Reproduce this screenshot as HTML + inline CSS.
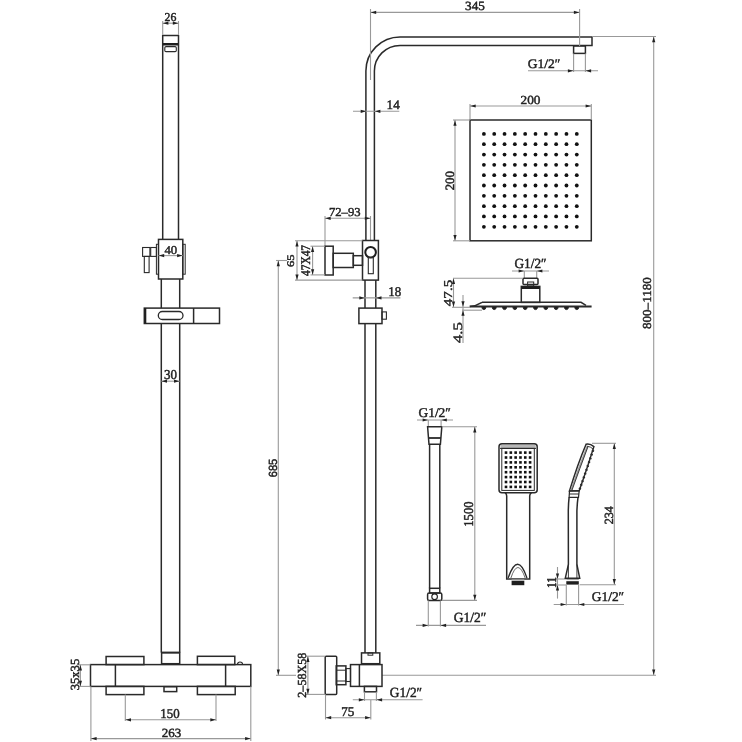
<!DOCTYPE html>
<html><head><meta charset="utf-8"><style>
html,body{margin:0;padding:0;background:#fff;}
svg{display:block;filter:grayscale(1);}
text{fill:#222;text-rendering:geometricPrecision;}
</style></head><body>
<svg width="742" height="742" viewBox="0 0 742 742">
<rect width="742" height="742" fill="#fff"/>
<line x1="162.7" y1="35.5" x2="178.5" y2="35.5" stroke="#2a2a2a" stroke-width="1.5" fill="none"/>
<rect x="162.7" y="43" width="15.80" height="2.50" fill="#1e1e1e"/>
<rect x="164.8" y="46.6" width="11.50" height="5.00" rx="1.2" stroke="#2a2a2a" stroke-width="1.1" fill="none"/>
<line x1="162.7" y1="35" x2="162.7" y2="239.4" stroke="#2a2a2a" stroke-width="1.5" fill="none"/>
<line x1="178.5" y1="35" x2="178.5" y2="239.4" stroke="#2a2a2a" stroke-width="1.5" fill="none"/>
<line x1="162.7" y1="21" x2="162.7" y2="35" stroke="#999" stroke-width="1.1" fill="none"/>
<line x1="178.5" y1="21" x2="178.5" y2="35" stroke="#999" stroke-width="1.1" fill="none"/>
<line x1="162.7" y1="23.2" x2="178.5" y2="23.2" stroke="#999" stroke-width="1.1" fill="none"/>
<polygon points="162.90,23.20 168.40,21.60 168.40,24.80" fill="#222"/>
<polygon points="178.30,23.20 172.80,21.60 172.80,24.80" fill="#222"/>
<text transform="translate(164.477,21.109) scale(0.11828,0.12059)" font-family="Liberation Serif" font-size="100" stroke="#222" stroke-width="3.768">26</text>
<rect x="158.5" y="239.4" width="24.30" height="39.60" rx="0" stroke="#2a2a2a" stroke-width="1.5" fill="none"/>
<rect x="182.8" y="244.3" width="2.40" height="29.90" rx="0" stroke="#2a2a2a" stroke-width="1.0" fill="none"/>
<rect x="156.4" y="244.3" width="2.10" height="29.90" rx="0" stroke="#2a2a2a" stroke-width="1.0" fill="none"/>
<rect x="150.7" y="247.5" width="5.70" height="8.90" rx="0" stroke="#2a2a2a" stroke-width="1.1" fill="none"/>
<rect x="142.6" y="247.5" width="7.30" height="8.90" rx="0" stroke="#2a2a2a" stroke-width="1.1" fill="none"/>
<rect x="144.3" y="256.4" width="4.80" height="16.20" rx="0" stroke="#2a2a2a" stroke-width="1.1" fill="none"/>
<line x1="158.5" y1="255.6" x2="182.8" y2="255.6" stroke="#999" stroke-width="1.1" fill="none"/>
<polygon points="158.70,255.60 164.20,254.00 164.20,257.20" fill="#222"/>
<polygon points="182.60,255.60 177.10,254.00 177.10,257.20" fill="#222"/>
<text transform="translate(164.395,253.909) scale(0.12766,0.12059)" font-family="Liberation Serif" font-size="100" stroke="#222" stroke-width="3.625">40</text>
<line x1="161.3" y1="279" x2="161.3" y2="308.1" stroke="#2a2a2a" stroke-width="1.5" fill="none"/>
<line x1="179.7" y1="279" x2="179.7" y2="308.1" stroke="#2a2a2a" stroke-width="1.5" fill="none"/>
<line x1="161.3" y1="323.5" x2="161.3" y2="652.6" stroke="#2a2a2a" stroke-width="1.5" fill="none"/>
<line x1="179.7" y1="323.5" x2="179.7" y2="652.6" stroke="#2a2a2a" stroke-width="1.5" fill="none"/>
<rect x="144.3" y="308.1" width="75.20" height="15.40" rx="0" stroke="#2a2a2a" stroke-width="1.5" fill="none"/>
<rect x="144.3" y="308.1" width="2.00" height="15.40" fill="#1e1e1e"/>
<line x1="193.6" y1="308.1" x2="193.6" y2="323.5" stroke="#2a2a2a" stroke-width="1.5" fill="none"/>
<rect x="158.3" y="311.5" width="24.70" height="8.00" rx="4" stroke="#2a2a2a" stroke-width="1.3" fill="none"/>
<line x1="161.3" y1="381.2" x2="179.7" y2="381.2" stroke="#999" stroke-width="1.1" fill="none"/>
<polygon points="161.50,381.20 167.00,379.60 167.00,382.80" fill="#222"/>
<polygon points="179.50,381.20 174.00,379.60 174.00,382.80" fill="#222"/>
<text transform="translate(164.002,379.279) scale(0.12967,0.13529)" font-family="Liberation Serif" font-size="100" stroke="#222" stroke-width="3.397">30</text>
<rect x="161.6" y="652.6" width="18.10" height="11.10" rx="0" stroke="#2a2a2a" stroke-width="1.5" fill="none"/>
<line x1="161.6" y1="652.6" x2="179.7" y2="652.6" stroke="#2a2a2a" stroke-width="1.8" fill="none"/>
<rect x="90.5" y="664.6" width="160.30" height="21.80" rx="0" stroke="#2a2a2a" stroke-width="1.5" fill="none"/>
<line x1="115.4" y1="664.6" x2="115.4" y2="686.4" stroke="#2a2a2a" stroke-width="1.5" fill="none"/>
<line x1="225.6" y1="664.6" x2="225.6" y2="686.4" stroke="#2a2a2a" stroke-width="1.5" fill="none"/>
<rect x="106.1" y="656.5" width="37.80" height="8.10" rx="0" stroke="#2a2a2a" stroke-width="1.5" fill="none"/>
<rect x="197.4" y="656.3" width="37.40" height="8.30" rx="0" stroke="#2a2a2a" stroke-width="1.5" fill="none"/>
<rect x="106.1" y="686.4" width="37.80" height="8.20" rx="0" stroke="#2a2a2a" stroke-width="1.5" fill="none"/>
<rect x="197.4" y="686.4" width="37.80" height="8.20" rx="0" stroke="#2a2a2a" stroke-width="1.5" fill="none"/>
<path d="M237.4,664.6 A2.6,2.6 0 0 1 242.6,664.6" stroke="#2a2a2a" stroke-width="1.1" fill="none"/>
<rect x="164" y="686.7" width="12.70" height="4.90" rx="0" stroke="#2a2a2a" stroke-width="1.5" fill="none"/>
<line x1="80.4" y1="664.8" x2="80.4" y2="686.4" stroke="#999" stroke-width="1.1" fill="none"/>
<line x1="78" y1="664.8" x2="90.5" y2="664.8" stroke="#999" stroke-width="1.1" fill="none"/>
<line x1="78" y1="686.4" x2="90.5" y2="686.4" stroke="#999" stroke-width="1.1" fill="none"/>
<polygon points="80.40,664.90 78.80,670.40 82.00,670.40" fill="#222"/>
<polygon points="80.40,686.30 78.80,680.80 82.00,680.80" fill="#222"/>
<text transform="translate(78.526,690.177) rotate(-90) scale(0.12531,0.12388)" font-family="Liberation Serif" font-size="100" stroke="#222" stroke-width="3.612">35x35</text>
<line x1="125.3" y1="694.6" x2="125.3" y2="721" stroke="#999" stroke-width="1.1" fill="none"/>
<line x1="216" y1="694.6" x2="216" y2="721" stroke="#999" stroke-width="1.1" fill="none"/>
<line x1="125.3" y1="719.8" x2="216" y2="719.8" stroke="#999" stroke-width="1.1" fill="none"/>
<polygon points="125.50,719.80 131.00,718.20 131.00,721.40" fill="#222"/>
<polygon points="215.80,719.80 210.30,718.20 210.30,721.40" fill="#222"/>
<text transform="translate(160.294,718.479) scale(0.12847,0.13529)" font-family="Liberation Serif" font-size="100" stroke="#222" stroke-width="3.412">150</text>
<line x1="90.9" y1="686.4" x2="90.9" y2="741" stroke="#999" stroke-width="1.1" fill="none"/>
<line x1="250.8" y1="686.4" x2="250.8" y2="741" stroke="#999" stroke-width="1.1" fill="none"/>
<line x1="90.9" y1="738.6" x2="250.8" y2="738.6" stroke="#999" stroke-width="1.1" fill="none"/>
<polygon points="91.10,738.60 96.60,737.00 96.60,740.20" fill="#222"/>
<polygon points="250.60,738.60 245.10,737.00 245.10,740.20" fill="#222"/>
<text transform="translate(161.832,737.100) scale(0.12958,0.12500)" font-family="Liberation Serif" font-size="100" stroke="#222" stroke-width="3.535">263</text>
<path d="M365.9,240.5 L365.9,71 A34.1,34.1 0 0 1 400,36.9 L592,36.9 L592,45.4 L400,45.4 A25.6,25.6 0 0 0 374.4,71 L374.4,240.5" stroke="#2a2a2a" stroke-width="1.5" fill="none"/>
<rect x="573.6" y="46" width="11.80" height="7.40" rx="0" stroke="#2a2a2a" stroke-width="1.5" fill="none"/>
<line x1="370.5" y1="9" x2="370.5" y2="80" stroke="#999" stroke-width="1.1" fill="none"/>
<line x1="579.6" y1="9" x2="579.6" y2="46" stroke="#999" stroke-width="1.1" fill="none"/>
<line x1="370.5" y1="12.4" x2="579.6" y2="12.4" stroke="#999" stroke-width="1.1" fill="none"/>
<polygon points="370.70,12.40 376.20,10.80 376.20,14.00" fill="#222"/>
<polygon points="579.40,12.40 573.90,10.80 573.90,14.00" fill="#222"/>
<text transform="translate(465.090,10.425) scale(0.13191,0.12537)" font-family="Liberation Serif" font-size="100" stroke="#222" stroke-width="3.498">345</text>
<line x1="573.6" y1="53.4" x2="573.6" y2="72" stroke="#999" stroke-width="1.1" fill="none"/>
<line x1="585.4" y1="53.4" x2="585.4" y2="72" stroke="#999" stroke-width="1.1" fill="none"/>
<line x1="528" y1="70.8" x2="598" y2="70.8" stroke="#999" stroke-width="1.1" fill="none"/>
<polygon points="573.40,70.80 567.90,69.20 567.90,72.40" fill="#222"/>
<polygon points="585.60,70.80 591.10,69.20 591.10,72.40" fill="#222"/>
<text transform="translate(527.812,68.291) scale(0.13448,0.12941)" font-family="Liberation Serif" font-size="100" stroke="#222" stroke-width="3.410">G1/2&#8243;</text>
<line x1="592" y1="36.5" x2="656" y2="36.5" stroke="#999" stroke-width="1.1" fill="none"/>
<line x1="653.7" y1="36.5" x2="653.7" y2="675.3" stroke="#999" stroke-width="1.1" fill="none"/>
<polygon points="653.70,36.70 652.10,42.20 655.30,42.20" fill="#222"/>
<polygon points="653.70,675.10 652.10,669.60 655.30,669.60" fill="#222"/>
<text transform="translate(651.406,328.972) rotate(-90) scale(0.13059,0.12206)" font-family="Liberation Serif" font-size="100" stroke="#222" stroke-width="3.562">800&#8211;1180</text>
<line x1="382" y1="675.3" x2="656" y2="675.3" stroke="#999" stroke-width="1.1" fill="none"/>
<line x1="353" y1="111.3" x2="399.3" y2="111.3" stroke="#999" stroke-width="1.1" fill="none"/>
<polygon points="366.20,111.30 360.70,109.70 360.70,112.90" fill="#222"/>
<polygon points="374.90,111.30 380.40,109.70 380.40,112.90" fill="#222"/>
<text transform="translate(386.570,109.222) scale(0.13111,0.12836)" font-family="Liberation Serif" font-size="100" stroke="#222" stroke-width="3.469">14</text>
<line x1="325" y1="216" x2="325" y2="246" stroke="#999" stroke-width="1.1" fill="none"/>
<line x1="370.5" y1="216" x2="370.5" y2="240.5" stroke="#999" stroke-width="1.1" fill="none"/>
<line x1="325" y1="218.3" x2="370.5" y2="218.3" stroke="#999" stroke-width="1.1" fill="none"/>
<polygon points="325.20,218.30 330.70,216.70 330.70,219.90" fill="#222"/>
<polygon points="370.30,218.30 364.80,216.70 364.80,219.90" fill="#222"/>
<text transform="translate(328.887,216.428) scale(0.12708,0.12239)" font-family="Liberation Serif" font-size="100" stroke="#222" stroke-width="3.608">72&#8211;93</text>
<rect x="362.5" y="240.5" width="15.90" height="39.60" rx="0" stroke="#2a2a2a" stroke-width="1.5" fill="none"/>
<circle cx="370.6" cy="252.2" r="5.3" fill="none" stroke="#1e1e1e" stroke-width="2"/>
<rect x="368.3" y="257.5" width="5.00" height="16.20" rx="0" stroke="#2a2a2a" stroke-width="1.1" fill="none"/>
<rect x="353.3" y="255.7" width="9.20" height="9.60" rx="0" stroke="#2a2a2a" stroke-width="1.5" fill="none"/>
<rect x="333.2" y="253.3" width="20.10" height="14.20" rx="0" stroke="#2a2a2a" stroke-width="1.5" fill="none"/>
<rect x="325" y="246.2" width="8.20" height="28.80" rx="0" stroke="#2a2a2a" stroke-width="1.5" fill="none"/>
<line x1="297" y1="240.8" x2="297" y2="280.1" stroke="#999" stroke-width="1.1" fill="none"/>
<line x1="295" y1="240.8" x2="362.5" y2="240.8" stroke="#999" stroke-width="1.1" fill="none"/>
<line x1="295" y1="280.1" x2="362.5" y2="280.1" stroke="#999" stroke-width="1.1" fill="none"/>
<polygon points="297.00,241.00 295.40,246.50 298.60,246.50" fill="#222"/>
<polygon points="297.00,279.90 295.40,274.40 298.60,274.40" fill="#222"/>
<text transform="translate(294.047,267.059) rotate(-90) scale(0.12717,0.10147)" font-family="Liberation Serif" font-size="100" stroke="#222" stroke-width="3.936">65</text>
<line x1="312.6" y1="246.2" x2="312.6" y2="274.9" stroke="#999" stroke-width="1.1" fill="none"/>
<line x1="310.5" y1="246.2" x2="325" y2="246.2" stroke="#999" stroke-width="1.1" fill="none"/>
<line x1="310.5" y1="274.9" x2="325" y2="274.9" stroke="#999" stroke-width="1.1" fill="none"/>
<polygon points="312.60,246.40 311.00,251.90 314.20,251.90" fill="#222"/>
<polygon points="312.60,274.70 311.00,269.20 314.20,269.20" fill="#222"/>
<text transform="translate(310.418,275.978) rotate(-90) scale(0.11386,0.13182)" font-family="Liberation Serif" font-size="100" stroke="#222" stroke-width="3.663">47X47</text>
<line x1="278.3" y1="260.5" x2="278.3" y2="675.3" stroke="#999" stroke-width="1.1" fill="none"/>
<line x1="276" y1="260.5" x2="287" y2="260.5" stroke="#999" stroke-width="1.1" fill="none"/>
<line x1="276" y1="675.3" x2="296" y2="675.3" stroke="#999" stroke-width="1.1" fill="none"/>
<polygon points="278.30,260.70 276.70,266.20 279.90,266.20" fill="#222"/>
<polygon points="278.30,675.10 276.70,669.60 279.90,669.60" fill="#222"/>
<text transform="translate(276.532,477.201) rotate(-90) scale(0.11013,0.11831)" font-family="Liberation Sans" font-size="100" stroke="#222" stroke-width="3.940">685</text>
<line x1="365" y1="280.1" x2="365" y2="308.1" stroke="#2a2a2a" stroke-width="1.5" fill="none"/>
<line x1="375.8" y1="280.1" x2="375.8" y2="308.1" stroke="#2a2a2a" stroke-width="1.5" fill="none"/>
<line x1="365" y1="323.6" x2="365" y2="652.9" stroke="#2a2a2a" stroke-width="1.5" fill="none"/>
<line x1="375.8" y1="323.6" x2="375.8" y2="652.9" stroke="#2a2a2a" stroke-width="1.5" fill="none"/>
<line x1="352.7" y1="297.9" x2="400.4" y2="297.9" stroke="#999" stroke-width="1.1" fill="none"/>
<polygon points="364.80,297.90 359.30,296.30 359.30,299.50" fill="#222"/>
<polygon points="376.00,297.90 381.50,296.30 381.50,299.50" fill="#222"/>
<text transform="translate(388.191,296.285) scale(0.12874,0.13235)" font-family="Liberation Serif" font-size="100" stroke="#222" stroke-width="3.447">18</text>
<rect x="358.9" y="308.1" width="23.10" height="15.50" rx="0" stroke="#2a2a2a" stroke-width="1.5" fill="none"/>
<rect x="382" y="311.9" width="4.40" height="7.30" rx="0" stroke="#2a2a2a" stroke-width="1.1" fill="none"/>
<rect x="361.5" y="652.9" width="18.30" height="10.80" rx="0" stroke="#2a2a2a" stroke-width="1.5" fill="none"/>
<rect x="368" y="652.9" width="4.80" height="2.30" rx="0" stroke="#2a2a2a" stroke-width="1.0" fill="none"/>
<rect x="350.5" y="664.6" width="31.50" height="21.80" rx="0" stroke="#2a2a2a" stroke-width="1.5" fill="none"/>
<line x1="359.4" y1="664.6" x2="359.4" y2="686.4" stroke="#2a2a2a" stroke-width="1.5" fill="none"/>
<rect x="345.9" y="668.6" width="4.60" height="12.90" rx="0" stroke="#2a2a2a" stroke-width="1.1" fill="none"/>
<rect x="336.2" y="665.9" width="9.70" height="18.80" rx="0" stroke="#2a2a2a" stroke-width="1.5" fill="none"/>
<line x1="336.2" y1="670.2" x2="345.9" y2="670.2" stroke="#2a2a2a" stroke-width="1.0" fill="none"/>
<line x1="336.2" y1="681" x2="345.9" y2="681" stroke="#2a2a2a" stroke-width="1.0" fill="none"/>
<rect x="325.2" y="656.2" width="11.50" height="38.20" rx="1" stroke="#2a2a2a" stroke-width="1.5" fill="none"/>
<rect x="364.4" y="686.4" width="12.10" height="5.40" rx="0" stroke="#2a2a2a" stroke-width="1.5" fill="none"/>
<line x1="307.9" y1="656.2" x2="307.9" y2="694.4" stroke="#999" stroke-width="1.1" fill="none"/>
<line x1="306" y1="656.2" x2="325.2" y2="656.2" stroke="#999" stroke-width="1.1" fill="none"/>
<line x1="306" y1="694.4" x2="325.2" y2="694.4" stroke="#999" stroke-width="1.1" fill="none"/>
<polygon points="307.90,656.40 306.30,661.90 309.50,661.90" fill="#222"/>
<polygon points="307.90,694.20 306.30,688.70 309.50,688.70" fill="#222"/>
<text transform="translate(305.703,697.735) rotate(-90) scale(0.12137,0.12353)" font-family="Liberation Serif" font-size="100" stroke="#222" stroke-width="3.675">2&#8211;58X58</text>
<line x1="325.5" y1="694.4" x2="325.5" y2="719.5" stroke="#999" stroke-width="1.1" fill="none"/>
<line x1="370.8" y1="700" x2="370.8" y2="719.5" stroke="#999" stroke-width="1.1" fill="none"/>
<line x1="325.5" y1="717.7" x2="370.8" y2="717.7" stroke="#999" stroke-width="1.1" fill="none"/>
<polygon points="325.70,717.70 331.20,716.10 331.20,719.30" fill="#222"/>
<polygon points="370.60,717.70 365.10,716.10 365.10,719.30" fill="#222"/>
<text transform="translate(341.163,715.817) scale(0.13111,0.13333)" font-family="Liberation Serif" font-size="100" stroke="#222" stroke-width="3.403">75</text>
<line x1="364.5" y1="691.8" x2="364.5" y2="701" stroke="#999" stroke-width="1.1" fill="none"/>
<line x1="376.4" y1="691.8" x2="376.4" y2="701" stroke="#999" stroke-width="1.1" fill="none"/>
<line x1="352.8" y1="699.8" x2="422.6" y2="699.8" stroke="#999" stroke-width="1.1" fill="none"/>
<polygon points="364.30,699.80 358.80,698.20 358.80,701.40" fill="#222"/>
<polygon points="376.60,699.80 382.10,698.20 382.10,701.40" fill="#222"/>
<text transform="translate(389.814,697.274) scale(0.13405,0.13824)" font-family="Liberation Serif" font-size="100" stroke="#222" stroke-width="3.305">G1/2&#8243;</text>
<rect x="470" y="120" width="121.30" height="120.80" rx="0" stroke="#2a2a2a" stroke-width="1.5" fill="none"/>
<circle cx="483.90" cy="133.90" r="1.9" fill="#111"/>
<circle cx="483.90" cy="144.22" r="1.9" fill="#111"/>
<circle cx="483.90" cy="154.54" r="1.9" fill="#111"/>
<circle cx="483.90" cy="164.86" r="1.9" fill="#111"/>
<circle cx="483.90" cy="175.18" r="1.9" fill="#111"/>
<circle cx="483.90" cy="185.50" r="1.9" fill="#111"/>
<circle cx="483.90" cy="195.82" r="1.9" fill="#111"/>
<circle cx="483.90" cy="206.14" r="1.9" fill="#111"/>
<circle cx="483.90" cy="216.46" r="1.9" fill="#111"/>
<circle cx="483.90" cy="226.78" r="1.9" fill="#111"/>
<circle cx="494.22" cy="133.90" r="1.9" fill="#111"/>
<circle cx="494.22" cy="144.22" r="1.9" fill="#111"/>
<circle cx="494.22" cy="154.54" r="1.9" fill="#111"/>
<circle cx="494.22" cy="164.86" r="1.9" fill="#111"/>
<circle cx="494.22" cy="175.18" r="1.9" fill="#111"/>
<circle cx="494.22" cy="185.50" r="1.9" fill="#111"/>
<circle cx="494.22" cy="195.82" r="1.9" fill="#111"/>
<circle cx="494.22" cy="206.14" r="1.9" fill="#111"/>
<circle cx="494.22" cy="216.46" r="1.9" fill="#111"/>
<circle cx="494.22" cy="226.78" r="1.9" fill="#111"/>
<circle cx="504.54" cy="133.90" r="1.9" fill="#111"/>
<circle cx="504.54" cy="144.22" r="1.9" fill="#111"/>
<circle cx="504.54" cy="154.54" r="1.9" fill="#111"/>
<circle cx="504.54" cy="164.86" r="1.9" fill="#111"/>
<circle cx="504.54" cy="175.18" r="1.9" fill="#111"/>
<circle cx="504.54" cy="185.50" r="1.9" fill="#111"/>
<circle cx="504.54" cy="195.82" r="1.9" fill="#111"/>
<circle cx="504.54" cy="206.14" r="1.9" fill="#111"/>
<circle cx="504.54" cy="216.46" r="1.9" fill="#111"/>
<circle cx="504.54" cy="226.78" r="1.9" fill="#111"/>
<circle cx="514.86" cy="133.90" r="1.9" fill="#111"/>
<circle cx="514.86" cy="144.22" r="1.9" fill="#111"/>
<circle cx="514.86" cy="154.54" r="1.9" fill="#111"/>
<circle cx="514.86" cy="164.86" r="1.9" fill="#111"/>
<circle cx="514.86" cy="175.18" r="1.9" fill="#111"/>
<circle cx="514.86" cy="185.50" r="1.9" fill="#111"/>
<circle cx="514.86" cy="195.82" r="1.9" fill="#111"/>
<circle cx="514.86" cy="206.14" r="1.9" fill="#111"/>
<circle cx="514.86" cy="216.46" r="1.9" fill="#111"/>
<circle cx="514.86" cy="226.78" r="1.9" fill="#111"/>
<circle cx="525.18" cy="133.90" r="1.9" fill="#111"/>
<circle cx="525.18" cy="144.22" r="1.9" fill="#111"/>
<circle cx="525.18" cy="154.54" r="1.9" fill="#111"/>
<circle cx="525.18" cy="164.86" r="1.9" fill="#111"/>
<circle cx="525.18" cy="175.18" r="1.9" fill="#111"/>
<circle cx="525.18" cy="185.50" r="1.9" fill="#111"/>
<circle cx="525.18" cy="195.82" r="1.9" fill="#111"/>
<circle cx="525.18" cy="206.14" r="1.9" fill="#111"/>
<circle cx="525.18" cy="216.46" r="1.9" fill="#111"/>
<circle cx="525.18" cy="226.78" r="1.9" fill="#111"/>
<circle cx="535.50" cy="133.90" r="1.9" fill="#111"/>
<circle cx="535.50" cy="144.22" r="1.9" fill="#111"/>
<circle cx="535.50" cy="154.54" r="1.9" fill="#111"/>
<circle cx="535.50" cy="164.86" r="1.9" fill="#111"/>
<circle cx="535.50" cy="175.18" r="1.9" fill="#111"/>
<circle cx="535.50" cy="185.50" r="1.9" fill="#111"/>
<circle cx="535.50" cy="195.82" r="1.9" fill="#111"/>
<circle cx="535.50" cy="206.14" r="1.9" fill="#111"/>
<circle cx="535.50" cy="216.46" r="1.9" fill="#111"/>
<circle cx="535.50" cy="226.78" r="1.9" fill="#111"/>
<circle cx="545.82" cy="133.90" r="1.9" fill="#111"/>
<circle cx="545.82" cy="144.22" r="1.9" fill="#111"/>
<circle cx="545.82" cy="154.54" r="1.9" fill="#111"/>
<circle cx="545.82" cy="164.86" r="1.9" fill="#111"/>
<circle cx="545.82" cy="175.18" r="1.9" fill="#111"/>
<circle cx="545.82" cy="185.50" r="1.9" fill="#111"/>
<circle cx="545.82" cy="195.82" r="1.9" fill="#111"/>
<circle cx="545.82" cy="206.14" r="1.9" fill="#111"/>
<circle cx="545.82" cy="216.46" r="1.9" fill="#111"/>
<circle cx="545.82" cy="226.78" r="1.9" fill="#111"/>
<circle cx="556.14" cy="133.90" r="1.9" fill="#111"/>
<circle cx="556.14" cy="144.22" r="1.9" fill="#111"/>
<circle cx="556.14" cy="154.54" r="1.9" fill="#111"/>
<circle cx="556.14" cy="164.86" r="1.9" fill="#111"/>
<circle cx="556.14" cy="175.18" r="1.9" fill="#111"/>
<circle cx="556.14" cy="185.50" r="1.9" fill="#111"/>
<circle cx="556.14" cy="195.82" r="1.9" fill="#111"/>
<circle cx="556.14" cy="206.14" r="1.9" fill="#111"/>
<circle cx="556.14" cy="216.46" r="1.9" fill="#111"/>
<circle cx="556.14" cy="226.78" r="1.9" fill="#111"/>
<circle cx="566.46" cy="133.90" r="1.9" fill="#111"/>
<circle cx="566.46" cy="144.22" r="1.9" fill="#111"/>
<circle cx="566.46" cy="154.54" r="1.9" fill="#111"/>
<circle cx="566.46" cy="164.86" r="1.9" fill="#111"/>
<circle cx="566.46" cy="175.18" r="1.9" fill="#111"/>
<circle cx="566.46" cy="185.50" r="1.9" fill="#111"/>
<circle cx="566.46" cy="195.82" r="1.9" fill="#111"/>
<circle cx="566.46" cy="206.14" r="1.9" fill="#111"/>
<circle cx="566.46" cy="216.46" r="1.9" fill="#111"/>
<circle cx="566.46" cy="226.78" r="1.9" fill="#111"/>
<circle cx="576.78" cy="133.90" r="1.9" fill="#111"/>
<circle cx="576.78" cy="144.22" r="1.9" fill="#111"/>
<circle cx="576.78" cy="154.54" r="1.9" fill="#111"/>
<circle cx="576.78" cy="164.86" r="1.9" fill="#111"/>
<circle cx="576.78" cy="175.18" r="1.9" fill="#111"/>
<circle cx="576.78" cy="185.50" r="1.9" fill="#111"/>
<circle cx="576.78" cy="195.82" r="1.9" fill="#111"/>
<circle cx="576.78" cy="206.14" r="1.9" fill="#111"/>
<circle cx="576.78" cy="216.46" r="1.9" fill="#111"/>
<circle cx="576.78" cy="226.78" r="1.9" fill="#111"/>
<line x1="470" y1="104" x2="470" y2="120" stroke="#999" stroke-width="1.1" fill="none"/>
<line x1="591.3" y1="104" x2="591.3" y2="120" stroke="#999" stroke-width="1.1" fill="none"/>
<line x1="470" y1="106" x2="591.3" y2="106" stroke="#999" stroke-width="1.1" fill="none"/>
<polygon points="470.20,106.00 475.70,104.40 475.70,107.60" fill="#222"/>
<polygon points="591.10,106.00 585.60,104.40 585.60,107.60" fill="#222"/>
<text transform="translate(520.518,104.303) scale(0.13310,0.12353)" font-family="Liberation Serif" font-size="100" stroke="#222" stroke-width="3.507">200</text>
<line x1="453" y1="120" x2="470" y2="120" stroke="#999" stroke-width="1.1" fill="none"/>
<line x1="453" y1="240.8" x2="470" y2="240.8" stroke="#999" stroke-width="1.1" fill="none"/>
<line x1="455" y1="120" x2="455" y2="240.8" stroke="#999" stroke-width="1.1" fill="none"/>
<polygon points="455.00,120.20 453.40,125.70 456.60,125.70" fill="#222"/>
<polygon points="455.00,240.60 453.40,235.10 456.60,235.10" fill="#222"/>
<text transform="translate(453.597,190.360) rotate(-90) scale(0.12746,0.12647)" font-family="Liberation Serif" font-size="100" stroke="#222" stroke-width="3.544">200</text>
<text transform="translate(514.519,267.671) scale(0.13276,0.13971)" font-family="Liberation Serif" font-size="100" stroke="#222" stroke-width="3.303">G1/2&#8243;</text>
<line x1="512" y1="271" x2="549" y2="271" stroke="#999" stroke-width="1.1" fill="none"/>
<polygon points="524.10,271.00 518.60,269.40 518.60,272.60" fill="#222"/>
<polygon points="536.90,271.00 542.40,269.40 542.40,272.60" fill="#222"/>
<line x1="524.3" y1="271" x2="524.3" y2="278.3" stroke="#999" stroke-width="1.1" fill="none"/>
<line x1="536.7" y1="271" x2="536.7" y2="278.3" stroke="#999" stroke-width="1.1" fill="none"/>
<rect x="523" y="278.3" width="15.00" height="6.30" rx="1" stroke="#2a2a2a" stroke-width="1.5" fill="none"/>
<rect x="527.6" y="282" width="6.10" height="4.00" rx="0" stroke="#2a2a2a" stroke-width="1.0" fill="none"/>
<rect x="521.3" y="286.4" width="18.50" height="16.00" rx="0" stroke="#2a2a2a" stroke-width="1.5" fill="none"/>
<rect x="521.3" y="286.4" width="18.50" height="2.60" fill="#1e1e1e"/>
<path d="M482,302.3 L581,302.3 L586,305.3" stroke="#2a2a2a" stroke-width="1.5" fill="none"/>
<path d="M470,306.5 Q476,306 482,302.3" stroke="#2a2a2a" stroke-width="1.5" fill="none"/>
<line x1="469.6" y1="306.6" x2="591.6" y2="306.6" stroke="#2a2a2a" stroke-width="2.0" fill="none"/>
<path d="M481.90,307 A2,2.6 0 0 0 485.90,307" stroke="#2a2a2a" stroke-width="1.0" fill="#1e1e1e"/>
<path d="M492.22,307 A2,2.6 0 0 0 496.22,307" stroke="#2a2a2a" stroke-width="1.0" fill="#1e1e1e"/>
<path d="M502.54,307 A2,2.6 0 0 0 506.54,307" stroke="#2a2a2a" stroke-width="1.0" fill="#1e1e1e"/>
<path d="M512.86,307 A2,2.6 0 0 0 516.86,307" stroke="#2a2a2a" stroke-width="1.0" fill="#1e1e1e"/>
<path d="M523.18,307 A2,2.6 0 0 0 527.18,307" stroke="#2a2a2a" stroke-width="1.0" fill="#1e1e1e"/>
<path d="M533.50,307 A2,2.6 0 0 0 537.50,307" stroke="#2a2a2a" stroke-width="1.0" fill="#1e1e1e"/>
<path d="M543.82,307 A2,2.6 0 0 0 547.82,307" stroke="#2a2a2a" stroke-width="1.0" fill="#1e1e1e"/>
<path d="M554.14,307 A2,2.6 0 0 0 558.14,307" stroke="#2a2a2a" stroke-width="1.0" fill="#1e1e1e"/>
<path d="M564.46,307 A2,2.6 0 0 0 568.46,307" stroke="#2a2a2a" stroke-width="1.0" fill="#1e1e1e"/>
<path d="M574.78,307 A2,2.6 0 0 0 578.78,307" stroke="#2a2a2a" stroke-width="1.0" fill="#1e1e1e"/>
<line x1="453" y1="278.3" x2="523" y2="278.3" stroke="#999" stroke-width="1.1" fill="none"/>
<line x1="453.5" y1="278.3" x2="453.5" y2="307.2" stroke="#999" stroke-width="1.1" fill="none"/>
<line x1="452" y1="307.3" x2="470" y2="307.3" stroke="#999" stroke-width="1.1" fill="none"/>
<polygon points="453.50,278.50 451.90,284.00 455.10,284.00" fill="#222"/>
<polygon points="453.50,307.00 451.90,301.50 455.10,301.50" fill="#222"/>
<text transform="translate(451.630,306.151) rotate(-90) scale(0.15030,0.11970)" font-family="Liberation Serif" font-size="100" stroke="#222" stroke-width="3.333">47.5</text>
<line x1="463" y1="295" x2="463" y2="343" stroke="#999" stroke-width="1.1" fill="none"/>
<polygon points="463.00,306.80 461.40,301.30 464.60,301.30" fill="#222"/>
<polygon points="463.00,310.20 461.40,315.70 464.60,315.70" fill="#222"/>
<line x1="462" y1="310.2" x2="482" y2="310.2" stroke="#999" stroke-width="1.1" fill="none"/>
<text transform="translate(461.721,342.983) rotate(-90) scale(0.16639,0.12879)" font-family="Liberation Serif" font-size="100" stroke="#222" stroke-width="3.049">4.5</text>
<text transform="translate(418.514,416.682) scale(0.13405,0.13382)" font-family="Liberation Serif" font-size="100" stroke="#222" stroke-width="3.360">G1/2&#8243;</text>
<line x1="417" y1="420" x2="453" y2="420" stroke="#999" stroke-width="1.1" fill="none"/>
<polygon points="428.10,420.00 422.60,418.40 422.60,421.60" fill="#222"/>
<polygon points="441.30,420.00 446.80,418.40 446.80,421.60" fill="#222"/>
<line x1="428.3" y1="420" x2="428.3" y2="427" stroke="#999" stroke-width="1.1" fill="none"/>
<line x1="441.1" y1="420" x2="441.1" y2="427" stroke="#999" stroke-width="1.1" fill="none"/>
<path d="M427.6,426.7 L441.8,426.7 L440.4,444.2 L429,444.2 Z" stroke="#2a2a2a" stroke-width="1.5" fill="none"/>
<line x1="428.6" y1="438" x2="441" y2="438" stroke="#2a2a2a" stroke-width="1.8" fill="none"/>
<line x1="429.6" y1="444.2" x2="429.6" y2="588.3" stroke="#2a2a2a" stroke-width="1.5" fill="none"/>
<line x1="439.8" y1="444.2" x2="439.8" y2="588.3" stroke="#2a2a2a" stroke-width="1.5" fill="none"/>
<rect x="429.6" y="588.3" width="10.20" height="4.70" rx="0" stroke="#2a2a2a" stroke-width="1.5" fill="none"/>
<rect x="427.6" y="593" width="14.20" height="7.40" rx="1.5" stroke="#2a2a2a" stroke-width="1.5" fill="none"/>
<circle cx="434.6" cy="596.7" r="2.8" fill="none" stroke="#1e1e1e" stroke-width="1.1"/>
<line x1="441.8" y1="426.7" x2="477" y2="426.7" stroke="#999" stroke-width="1.1" fill="none"/>
<line x1="441.8" y1="600.4" x2="477" y2="600.4" stroke="#999" stroke-width="1.1" fill="none"/>
<line x1="474.8" y1="426.7" x2="474.8" y2="600.4" stroke="#999" stroke-width="1.1" fill="none"/>
<polygon points="474.80,426.90 473.20,432.40 476.40,432.40" fill="#222"/>
<polygon points="474.80,600.20 473.20,594.70 476.40,594.70" fill="#222"/>
<text transform="translate(473.279,526.681) rotate(-90) scale(0.12567,0.13529)" font-family="Liberation Serif" font-size="100" stroke="#222" stroke-width="3.449">1500</text>
<line x1="428.3" y1="600.4" x2="428.3" y2="626.5" stroke="#999" stroke-width="1.1" fill="none"/>
<line x1="440.4" y1="600.4" x2="440.4" y2="626.5" stroke="#999" stroke-width="1.1" fill="none"/>
<line x1="416" y1="625.4" x2="486" y2="625.4" stroke="#999" stroke-width="1.1" fill="none"/>
<polygon points="428.10,625.40 422.60,623.80 422.60,627.00" fill="#222"/>
<polygon points="440.60,625.40 446.10,623.80 446.10,627.00" fill="#222"/>
<text transform="translate(453.812,622.371) scale(0.13448,0.13971)" font-family="Liberation Serif" font-size="100" stroke="#222" stroke-width="3.282">G1/2&#8243;</text>
<rect x="500.5" y="444.6" width="35.20" height="3.60" fill="#b8b8b8"/>
<rect x="499" y="443.7" width="38.20" height="49.00" rx="3" stroke="#2a2a2a" stroke-width="1.5" fill="none"/>
<line x1="500" y1="448.4" x2="536" y2="448.4" stroke="#2a2a2a" stroke-width="1.0" fill="none"/>
<rect x="501.8" y="448.4" width="32.50" height="42.00" rx="0" stroke="#2a2a2a" stroke-width="1.0" fill="none"/>
<rect x="504.70" y="451.30" width="2.6" height="2.6" fill="#111"/>
<rect x="504.70" y="456.20" width="2.6" height="2.6" fill="#111"/>
<rect x="504.70" y="461.10" width="2.6" height="2.6" fill="#111"/>
<rect x="504.70" y="466.00" width="2.6" height="2.6" fill="#111"/>
<rect x="504.70" y="470.90" width="2.6" height="2.6" fill="#111"/>
<rect x="504.70" y="475.80" width="2.6" height="2.6" fill="#111"/>
<rect x="504.70" y="480.70" width="2.6" height="2.6" fill="#111"/>
<rect x="504.70" y="485.60" width="2.6" height="2.6" fill="#111"/>
<rect x="509.52" y="451.30" width="2.6" height="2.6" fill="#111"/>
<rect x="509.52" y="456.20" width="2.6" height="2.6" fill="#111"/>
<rect x="509.52" y="461.10" width="2.6" height="2.6" fill="#111"/>
<rect x="509.52" y="466.00" width="2.6" height="2.6" fill="#111"/>
<rect x="509.52" y="470.90" width="2.6" height="2.6" fill="#111"/>
<rect x="509.52" y="475.80" width="2.6" height="2.6" fill="#111"/>
<rect x="509.52" y="480.70" width="2.6" height="2.6" fill="#111"/>
<rect x="509.52" y="485.60" width="2.6" height="2.6" fill="#111"/>
<rect x="514.34" y="451.30" width="2.6" height="2.6" fill="#111"/>
<rect x="514.34" y="456.20" width="2.6" height="2.6" fill="#111"/>
<rect x="514.34" y="461.10" width="2.6" height="2.6" fill="#111"/>
<rect x="514.34" y="466.00" width="2.6" height="2.6" fill="#111"/>
<rect x="514.34" y="470.90" width="2.6" height="2.6" fill="#111"/>
<rect x="514.34" y="475.80" width="2.6" height="2.6" fill="#111"/>
<rect x="514.34" y="480.70" width="2.6" height="2.6" fill="#111"/>
<rect x="514.34" y="485.60" width="2.6" height="2.6" fill="#111"/>
<rect x="519.16" y="451.30" width="2.6" height="2.6" fill="#111"/>
<rect x="519.16" y="456.20" width="2.6" height="2.6" fill="#111"/>
<rect x="519.16" y="461.10" width="2.6" height="2.6" fill="#111"/>
<rect x="519.16" y="466.00" width="2.6" height="2.6" fill="#111"/>
<rect x="519.16" y="470.90" width="2.6" height="2.6" fill="#111"/>
<rect x="519.16" y="475.80" width="2.6" height="2.6" fill="#111"/>
<rect x="519.16" y="480.70" width="2.6" height="2.6" fill="#111"/>
<rect x="519.16" y="485.60" width="2.6" height="2.6" fill="#111"/>
<rect x="523.98" y="451.30" width="2.6" height="2.6" fill="#111"/>
<rect x="523.98" y="456.20" width="2.6" height="2.6" fill="#111"/>
<rect x="523.98" y="461.10" width="2.6" height="2.6" fill="#111"/>
<rect x="523.98" y="466.00" width="2.6" height="2.6" fill="#111"/>
<rect x="523.98" y="470.90" width="2.6" height="2.6" fill="#111"/>
<rect x="523.98" y="475.80" width="2.6" height="2.6" fill="#111"/>
<rect x="523.98" y="480.70" width="2.6" height="2.6" fill="#111"/>
<rect x="523.98" y="485.60" width="2.6" height="2.6" fill="#111"/>
<rect x="528.80" y="451.30" width="2.6" height="2.6" fill="#111"/>
<rect x="528.80" y="456.20" width="2.6" height="2.6" fill="#111"/>
<rect x="528.80" y="461.10" width="2.6" height="2.6" fill="#111"/>
<rect x="528.80" y="466.00" width="2.6" height="2.6" fill="#111"/>
<rect x="528.80" y="470.90" width="2.6" height="2.6" fill="#111"/>
<rect x="528.80" y="475.80" width="2.6" height="2.6" fill="#111"/>
<rect x="528.80" y="480.70" width="2.6" height="2.6" fill="#111"/>
<rect x="528.80" y="485.60" width="2.6" height="2.6" fill="#111"/>
<path d="M505,492.7 Q506.7,493.5 506.7,496 L506.7,579 L529.7,579 L529.7,496 Q529.7,493.5 531.5,492.7" stroke="#2a2a2a" stroke-width="1.5" fill="none"/>
<path d="M508.1,578 Q517.8,550.5 527,578" stroke="#2a2a2a" stroke-width="1.3" fill="none"/>
<path d="M510.9,578 Q517.8,557 525.2,578" stroke="#2a2a2a" stroke-width="0.7" fill="none"/>
<rect x="511.6" y="580.8" width="12.70" height="4.40" fill="#1e1e1e"/>
<line x1="511.6" y1="579.8" x2="524.3" y2="579.8" stroke="#999" stroke-width="1.2" fill="none"/>
<line x1="557.5" y1="567" x2="557.5" y2="598.6" stroke="#999" stroke-width="1.1" fill="none"/>
<polygon points="557.50,578.90 555.90,573.40 559.10,573.40" fill="#222"/>
<polygon points="557.50,585.00 555.90,590.50 559.10,590.50" fill="#222"/>
<line x1="547" y1="579" x2="566" y2="579" stroke="#999" stroke-width="1.1" fill="none"/>
<line x1="547" y1="585" x2="566" y2="585" stroke="#999" stroke-width="1.1" fill="none"/>
<text transform="translate(556.050,587.961) rotate(-90) scale(0.11235,0.13182)" font-family="Liberation Serif" font-size="100" stroke="#222" stroke-width="3.686">11</text>
<path d="M586.1,444.2 Q590,443.3 593.9,446.6 Q587,469 579.2,490.7 L569.5,490.9 Q577.6,464.2 586.1,444.2 Z" stroke="#2a2a2a" stroke-width="1.5" fill="none"/>
<path d="M587.3,446.4 Q578.9,468 570.9,490.7" stroke="#9a9a9a" stroke-width="1.6" fill="none"/>
<path d="M588,446.6 Q580,468 571.8,490.7" stroke="#2a2a2a" stroke-width="0.9" fill="none"/>
<path d="M587,446.2 Q590.5,446.5 593.4,449.2" stroke="#2a2a2a" stroke-width="0.9" fill="none"/>
<path d="M593.2,450 Q586.5,470 579.6,489.5" stroke="#2a2a2a" stroke-width="2.4" fill="none" stroke-dasharray="1.6 2.4"/>
<path d="M569.5,490.9 L579.2,490.7 L578.5,497.3 L569.1,497.3 Z" stroke="#2a2a2a" stroke-width="1.2" fill="none"/>
<line x1="569.3" y1="494" x2="578.9" y2="494" stroke="#2a2a2a" stroke-width="1.0" fill="none"/>
<path d="M569.1,497.3 Q568.4,503 568.3,511 L568.4,564.4 L565.3,578.2 L579.7,578.2 L576.9,564.4 L576.9,511 Q577.2,503 578,497.3" stroke="#2a2a2a" stroke-width="1.5" fill="none"/>
<line x1="568.4" y1="564.4" x2="568.4" y2="578.2" stroke="#2a2a2a" stroke-width="0.9" fill="none"/>
<line x1="576.9" y1="564.4" x2="576.9" y2="578.2" stroke="#2a2a2a" stroke-width="0.9" fill="none"/>
<rect x="566.3" y="581.2" width="12.50" height="3.40" fill="#1e1e1e"/>
<line x1="566.3" y1="579.6" x2="578.8" y2="579.6" stroke="#999" stroke-width="1.0" fill="none"/>
<line x1="592" y1="443.3" x2="616" y2="443.3" stroke="#999" stroke-width="1.1" fill="none"/>
<line x1="579.7" y1="584.8" x2="616" y2="584.8" stroke="#999" stroke-width="1.1" fill="none"/>
<line x1="614.3" y1="443.3" x2="614.3" y2="584.8" stroke="#999" stroke-width="1.1" fill="none"/>
<polygon points="614.30,443.50 612.70,449.00 615.90,449.00" fill="#222"/>
<polygon points="614.30,584.60 612.70,579.10 615.90,579.10" fill="#222"/>
<text transform="translate(612.725,524.333) rotate(-90) scale(0.12069,0.12537)" font-family="Liberation Serif" font-size="100" stroke="#222" stroke-width="3.658">234</text>
<line x1="566.3" y1="584.5" x2="566.3" y2="605.5" stroke="#999" stroke-width="1.1" fill="none"/>
<line x1="578.6" y1="584.5" x2="578.6" y2="605.5" stroke="#999" stroke-width="1.1" fill="none"/>
<line x1="553.7" y1="604.5" x2="624" y2="604.5" stroke="#999" stroke-width="1.1" fill="none"/>
<polygon points="566.10,604.50 560.60,602.90 560.60,606.10" fill="#222"/>
<polygon points="578.80,604.50 584.30,602.90 584.30,606.10" fill="#222"/>
<text transform="translate(591.814,601.282) scale(0.13405,0.13382)" font-family="Liberation Serif" font-size="100" stroke="#222" stroke-width="3.360">G1/2&#8243;</text>
</svg></body></html>
